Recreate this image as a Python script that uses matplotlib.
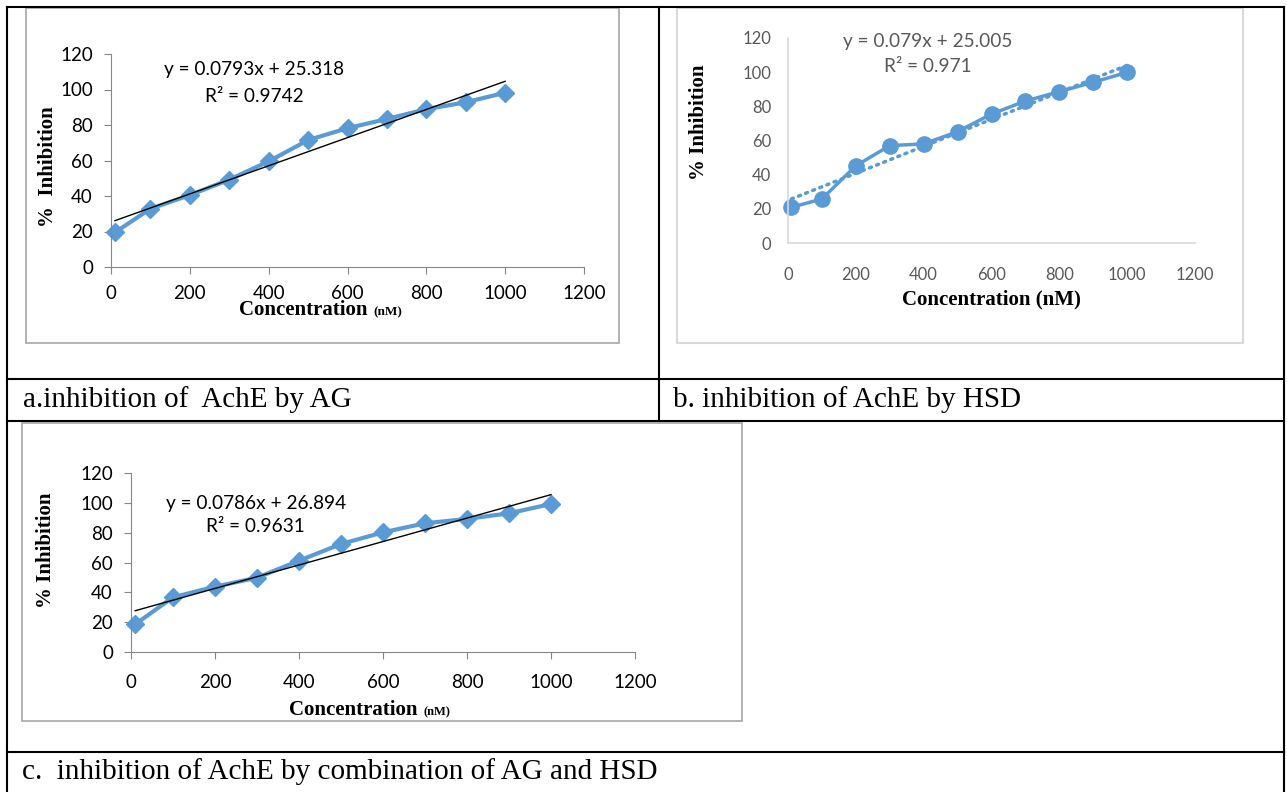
import matplotlib.pyplot as plt
from matplotlib.patches import Rectangle
import numpy as np

W, H = 1287, 792

# data
conc = [10, 100, 200, 300, 400, 500, 600, 700, 800, 900, 1000]
inhib_ag = [19.5, 32.8, 40.5, 49.2, 59.5, 71.5, 78.2, 83.4, 88.9, 92.8, 98.2]
inhib_hsd = [20.9, 25.8, 45.2, 57.0, 58.0, 65.2, 75.5, 83.1, 88.6, 94.1, 99.9]
inhib_mix = [18.6, 36.7, 43.8, 49.8, 61.2, 72.4, 80.2, 86.3, 89.2, 93.0, 99.2]

fit_ag = (0.0793, 25.318, "0.9742")
fit_hsd = (0.079, 25.005, "0.971")
fit_mix = (0.0786, 26.894, "0.9631")

xticks = [0, 200, 400, 600, 800, 1000, 1200]
yticks = [0, 20, 40, 60, 80, 100, 120]

captions = ["a.inhibition of  AchE by AG",
            "b. inhibition of AchE by HSD",
            "c.  inhibition of AchE by combination of AG and HSD"]

blue = "#5B9BD5"
serif = "Liberation Serif"
sans = "Lato"

fig = plt.figure(figsize=(W / 100, H / 100), dpi=100)

# background layer in pixel coordinates for the table and boxes
bg = fig.add_axes([0, 0, 1, 1], zorder=0)
bg.set_xlim(0, W)
bg.set_ylim(H, 0)
bg.axis("off")

lw_tab = 1.5
bg.plot([7, 1284], [7, 7], color="black", lw=lw_tab)
bg.plot([7, 7], [7, H], color="black", lw=lw_tab)
bg.plot([1284, 1284], [7, H], color="black", lw=lw_tab)
bg.plot([659, 659], [7, 421], color="black", lw=lw_tab)
for yy in [379, 421, 752]:
    bg.plot([7, 1284], [yy, yy], color="black", lw=lw_tab)

bg.add_patch(Rectangle((26, 8), 593, 335, fill=False, ec="#a6a6a6", lw=1.2))
bg.add_patch(Rectangle((677, 8), 566, 335, fill=False, ec="#d9d9d9", lw=1.5))
bg.add_patch(Rectangle((22, 423), 720, 298, fill=False, ec="#a6a6a6", lw=1.2))

bg.text(23, 400, captions[0], family=serif, fontsize=21, va="center", ha="left")
bg.text(673, 400, captions[1], family=serif, fontsize=21, va="center", ha="left")
bg.text(22, 772, captions[2], family=serif, fontsize=21, va="center", ha="left")


def px_axes(left, right, top, bottom):
    ax = fig.add_axes([left / W, 1 - bottom / H, (right - left) / W, (bottom - top) / H], zorder=1)
    ax.patch.set_visible(False)
    ax.set_xlim(0, 1200)
    ax.set_ylim(0, 120)
    ax.set_xticks(xticks)
    ax.set_yticks(yticks)
    for s in ["top", "right"]:
        ax.spines[s].set_visible(False)
    for lab in ax.get_xticklabels() + ax.get_yticklabels():
        lab.set_fontfamily(sans)
    return ax


def trend(ax, fit, **kw):
    slope, icpt, _ = fit
    xs = np.array([conc[0], conc[-1]])
    ax.plot(xs, slope * xs + icpt, **kw)


# chart a
ax = px_axes(111, 584, 54, 267)
for s in ["left", "bottom"]:
    ax.spines[s].set_color("#868686")
ax.tick_params(axis="both", direction="out", length=5, color="#868686", labelsize=13.5)
ax.tick_params(axis="x", pad=8)
ax.tick_params(axis="y", pad=8)
ax.plot(conc, inhib_ag, color=blue, lw=3, marker="D", ms=9.5, clip_on=False)
trend(ax, fit_ag, color="black", lw=1)
bg.text(254, 70, f"y = {fit_ag[0]}x + {fit_ag[1]}", family=sans, fontsize=13.7, ha="center", va="center")
bg.text(254, 96, f"R² = {fit_ag[2]}", family=sans, fontsize=13.7, ha="center", va="center")
bg.text(48, 167, "%  Inhibition", family=serif, weight="bold", fontsize=15, rotation=90, ha="center", va="center")
bg.text(368, 315, "Concentration", family=serif, weight="bold", fontsize=15, ha="right", va="baseline")
bg.text(373, 315, "(nM)", family=serif, weight="bold", fontsize=9.5, ha="left", va="baseline")

# chart b
ax = px_axes(788, 1195, 38, 243)
for s in ["left", "bottom"]:
    ax.spines[s].set_color("#d9d9d9")
    ax.spines[s].set_linewidth(1.2)
ax.tick_params(axis="both", length=0, labelsize=12, labelcolor="#595959")
ax.tick_params(axis="x", pad=17)
ax.tick_params(axis="y", pad=12)
trend(ax, fit_hsd, color=blue, lw=2.5, ls=(0, (0.6, 1.6)), dash_capstyle="round")
ax.plot(conc, inhib_hsd, color=blue, lw=2.5, marker="o", ms=11, clip_on=False)
bg.text(928, 41, f"y = {fit_hsd[0]}x + {fit_hsd[1]}", family=sans, fontsize=13.7, color="#595959", ha="center", va="center")
bg.text(928, 66, f"R² = {fit_hsd[2]}", family=sans, fontsize=13.7, color="#595959", ha="center", va="center")
bg.text(699, 122, "% Inhibition", family=serif, weight="bold", fontsize=15, rotation=90, ha="center", va="center")
bg.text(991, 299, "Concentration (nM)", family=serif, weight="bold", fontsize=15, ha="center", va="center")

# chart c
ax = px_axes(131, 635, 473, 652)
for s in ["left", "bottom"]:
    ax.spines[s].set_color("#868686")
ax.tick_params(axis="both", direction="out", length=5, color="#868686", labelsize=13.5)
ax.tick_params(axis="x", pad=11)
ax.tick_params(axis="y", pad=8)
ax.plot(conc, inhib_mix, color=blue, lw=3, marker="D", ms=9.5, clip_on=False)
trend(ax, fit_mix, color="black", lw=1)
bg.text(256, 503, f"y = {fit_mix[0]}x + {fit_mix[1]}", family=sans, fontsize=13.7, ha="center", va="center")
bg.text(255, 527, f"R² = {fit_mix[2]}", family=sans, fontsize=13.7, ha="center", va="center")
bg.text(46, 550, "% Inhibition", family=serif, weight="bold", fontsize=15, rotation=90, ha="center", va="center")
bg.text(418, 715, "Concentration", family=serif, weight="bold", fontsize=15, ha="right", va="baseline")
bg.text(423, 715, "(nM)", family=serif, weight="bold", fontsize=9, ha="left", va="baseline")

fig.savefig("out.png", dpi=100)
